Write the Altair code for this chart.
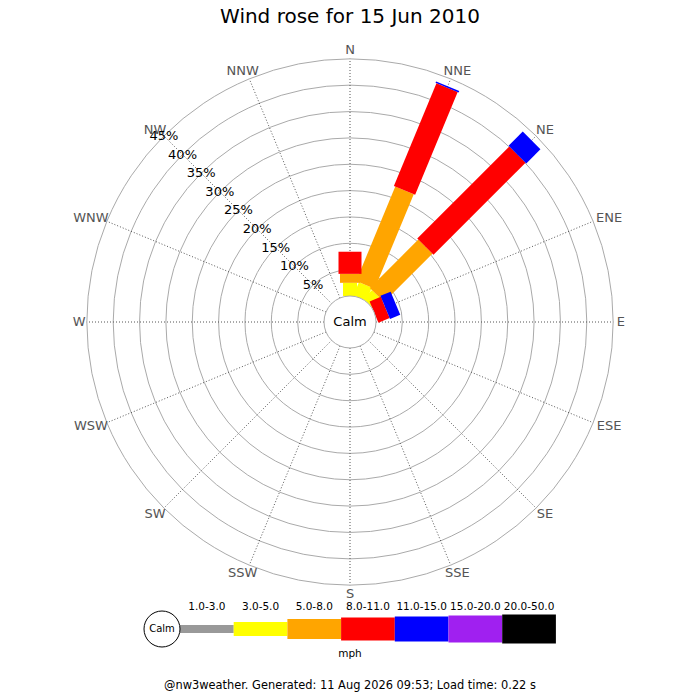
import altair as alt
import pandas as pd

# ---------------- data ----------------
TITLE = "Wind rose for 15 Jun 2010"
FOOTER = "@nw3weather. Generated: 11 Aug 2026 09:53; Load time: 0.22 s"
DIRS = ["N", "NNE", "NE", "ENE", "E", "ESE", "SE", "SSE",
        "S", "SSW", "SW", "WSW", "W", "WNW", "NW", "NNW"]
CLASSES = ["1.0-3.0", "3.0-5.0", "5.0-8.0", "8.0-11.0",
           "11.0-15.0", "15.0-20.0", "20.0-50.0"]
COLORS = ["#999999", "#ffff00", "#ffa500", "#ff0000",
          "#0000ff", "#a020f0", "#000000"]
# percentage of time per direction, per speed class (mph)
PCT_N = [0, 2.5, 1.7, 4.2, 0, 0, 0]
PCT_NNE = [0, 2.7, 19.4, 21.1, 0.3, 0, 0]
PCT_NE = [0, 2.3, 13.0, 24.7, 3.8, 0, 0]
PCT_ENE = [0, 0, 0, 2.3, 2.1, 0, 0]
RING_PCTS = [5, 10, 15, 20, 25, 30, 35, 40, 45]
UNIT = "mph"

# ---------------- layout (pixels) ----------------
CALM_R = 26
PX_PER_PCT = 5.27
OUTER_PCT = 45
BAR_W = [8, 14, 20, 23, 25, 27, 29]
LABEL_R = 266
LEG_Y = -307
LEG_X0 = -170
LEG_SEG = 53.7

W, H = 684, 684
xs = alt.Scale(domain=[-342, 342], nice=False, zero=False)
ys = alt.Scale(domain=[-370, 314], nice=False, zero=False)

def X(f):
    return alt.X(f, type="quantitative", scale=xs, axis=None)

def Y(f):
    return alt.Y(f, type="quantitative", scale=ys, axis=None)

# bars table
by_dir = {"N": PCT_N, "NNE": PCT_NNE, "NE": PCT_NE, "ENE": PCT_ENE}
rows = []
for d, vals in by_dir.items():
    cum = 0.0
    for ci, v in enumerate(vals):
        if v > 0:
            rows.append({"dir": DIRS.index(d), "p0": cum, "p1": cum + v,
                         "color": COLORS[ci], "w": BAR_W[ci], "ci": ci})
        cum += v
bars_df = pd.DataFrame(rows).sort_values(["ci", "dir"])

rings_df = pd.DataFrame({"pct": RING_PCTS})
dirs_df = pd.DataFrame({"name": DIRS, "i": list(range(16))})
leg_df = pd.DataFrame({"cls": CLASSES, "color": COLORS, "w": BAR_W,
                       "i": list(range(len(CLASSES)))})

radius = f"({CALM_R} + {PX_PER_PCT} * datum.pct)"

rings = alt.Chart(rings_df).transform_calculate(
    r=radius, s=f"pow(2 * {radius}, 2)", x0="0", y0="0"
).mark_point(shape="circle", filled=False, stroke="#aaaaaa", strokeWidth=1,
             opacity=1).encode(
    x=X("x0"), y=Y("y0"),
    size=alt.Size("s:Q", scale=None),
)

spokes = alt.Chart(dirs_df).transform_calculate(
    a="datum.i * PI / 8",
    r0=str(CALM_R), r1=f"{CALM_R} + {PX_PER_PCT} * {OUTER_PCT}",
    xa="datum.r0 * sin(datum.a)", ya="datum.r0 * cos(datum.a)",
    xb="datum.r1 * sin(datum.a)", yb="datum.r1 * cos(datum.a)",
).mark_rule(color="#555555", strokeWidth=1, strokeDash=[1, 2]).encode(
    x=X("xa"), y=Y("ya"), x2="xb:Q", y2="yb:Q"
)

# direction labels: text box placed just outside the outer ring
dir_labels = alt.Chart(dirs_df).transform_calculate(
    a="datum.i * PI / 8",
    tw="length(datum.name) * 9.6",
    xl=f"{LABEL_R} * sin(datum.a) + sin(datum.a) * datum.tw / 2",
    yl=f"{LABEL_R} * cos(datum.a) + cos(datum.a) * 6",
).mark_text(font="DejaVu Sans", fontSize=13, color="#555555",
            align="center", baseline="middle").encode(
    x=X("xl"), y=Y("yl"), text="name:N"
)

bars = alt.Chart(bars_df).transform_calculate(
    a="datum.dir * PI / 8",
    r0=f"{CALM_R} + {PX_PER_PCT} * datum.p0",
    r1=f"{CALM_R} + {PX_PER_PCT} * datum.p1",
    xa="datum.r0 * sin(datum.a)", ya="datum.r0 * cos(datum.a)",
    xb="datum.r1 * sin(datum.a)", yb="datum.r1 * cos(datum.a)",
).mark_rule(strokeCap="butt").encode(
    x=X("xa"), y=Y("ya"), x2="xb:Q", y2="yb:Q",
    color=alt.Color("color:N", scale=None),
    strokeWidth=alt.StrokeWidth("w:Q", scale=None),
)

pct_labels = alt.Chart(rings_df).transform_calculate(
    r=radius,
    xl="-datum.r * SQRT1_2", yl="datum.r * SQRT1_2",
    t="datum.pct + '%'",
).mark_text(font="DejaVu Sans", fontSize=13, color="#000000",
            align="center", baseline="middle").encode(
    x=X("xl"), y=Y("yl"), text="t:N"
)

center_df = pd.DataFrame({"x": [0], "y": [0], "t": ["Calm"]})
calm = alt.Chart(center_df).transform_calculate(
    s=f"pow(2 * {CALM_R}, 2)"
).mark_point(shape="circle", filled=True, fill="#ffffff", stroke="#aaaaaa",
             strokeWidth=1, opacity=1, fillOpacity=1).encode(
    x=X("x"), y=Y("y"), size=alt.Size("s:Q", scale=None)
)
calm_txt = alt.Chart(center_df).mark_text(
    font="DejaVu Sans", fontSize=13, color="#000000",
    align="center", baseline="middle").encode(x=X("x"), y=Y("y"), text="t:N")

# legend
leg_bars = alt.Chart(leg_df).transform_calculate(
    xa=f"{LEG_X0} + datum.i * {LEG_SEG}",
    xb=f"{LEG_X0} + (datum.i + 1) * {LEG_SEG}",
    y0=str(LEG_Y),
).mark_rule(strokeCap="butt").encode(
    x=X("xa"), x2="xb:Q", y=Y("y0"), y2="y0:Q",
    color=alt.Color("color:N", scale=None),
    strokeWidth=alt.StrokeWidth("w:Q", scale=None),
)
leg_labels = alt.Chart(leg_df).transform_calculate(
    xm=f"{LEG_X0} + (datum.i + 0.5) * {LEG_SEG}",
    yl=str(LEG_Y + 22),
).mark_text(font="DejaVu Sans", fontSize=10.5, color="#000000",
            align="center", baseline="middle").encode(
    x=X("xm"), y=Y("yl"), text="cls:N"
)
leg_calm_df = pd.DataFrame({"x": [LEG_X0 - 18], "y": [LEG_Y], "t": ["Calm"]})
leg_calm = alt.Chart(leg_calm_df).mark_point(
    shape="circle", filled=True, fill="#ffffff", stroke="#000000",
    strokeWidth=1, size=(2 * 18) ** 2, opacity=1, fillOpacity=1).encode(
    x=X("x"), y=Y("y"))
leg_calm_txt = alt.Chart(leg_calm_df).mark_text(
    font="DejaVu Sans", fontSize=10, color="#000000",
    align="center", baseline="middle").encode(x=X("x"), y=Y("y"), text="t:N")

texts_df = pd.DataFrame({
    "t": [TITLE, UNIT, FOOTER],
    "x": [0, 0, 0],
    "y": [305, LEG_Y - 25, -364],
    "fs": [20, 10.5, 11.4],
})
texts = alt.Chart(texts_df).mark_text(
    font="DejaVu Sans", color="#000000", align="center", baseline="middle"
).encode(
    x=X("x"), y=Y("y"), text="t:N",
    size=alt.Size("fs:Q", scale=None),
)

chart = alt.layer(
    rings, spokes, bars, calm, calm_txt, dir_labels, pct_labels,
    leg_bars, leg_calm, leg_calm_txt, leg_labels, texts
).properties(
    width=W, height=H, padding=0, autosize=alt.AutoSizeParams(type="none"),
    background="#ffffff"
).configure_view(stroke=None)

chart.save("out.html", embed_options={"renderer": "svg", "actions": False})
